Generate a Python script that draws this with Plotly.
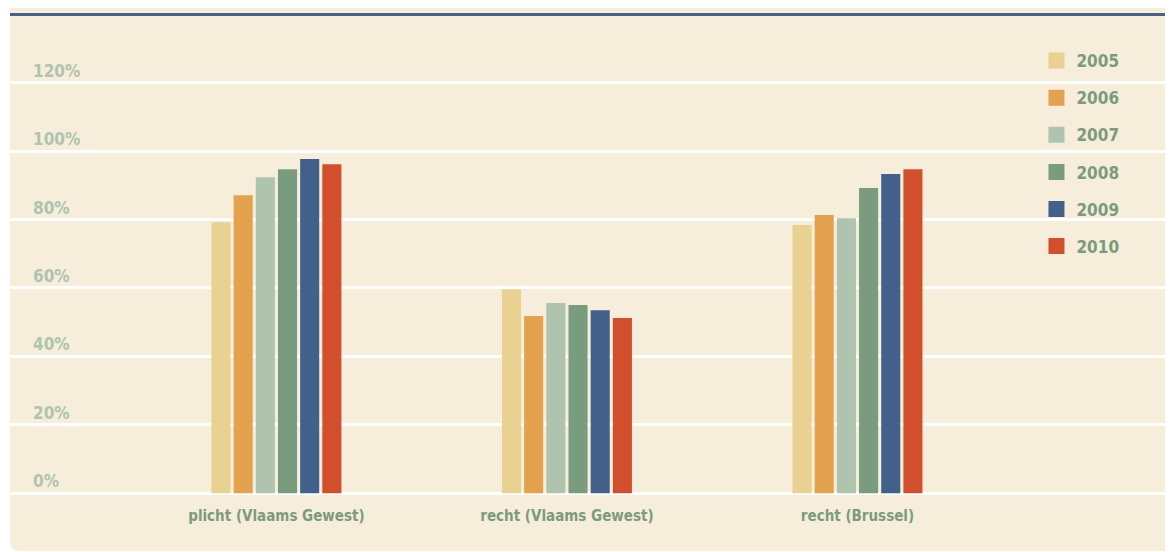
import plotly.graph_objects as go

categories = ["plicht (Vlaams Gewest)", "recht (Vlaams Gewest)", "recht (Brussel)"]
years = ["2005", "2006", "2007", "2008", "2009", "2010"]
values = {
    "2005": [79.2, 59.6, 78.4],
    "2006": [87.1, 51.8, 81.3],
    "2007": [92.4, 55.6, 80.4],
    "2008": [94.7, 55.0, 89.2],
    "2009": [97.7, 53.5, 93.3],
    "2010": [96.2, 51.2, 94.7],
}
colors = ["#E9D192", "#E4A14E", "#AEC4AF", "#7A9C7E", "#41618B", "#D34F2B"]
ytick_vals = [0, 20, 40, 60, 80, 100, 120]
ytick_text = ["0%", "20%", "40%", "60%", "80%", "100%", "120%"]

FONT = "DejaVu Sans Condensed, Liberation Sans Narrow, sans-serif"
CREAM = "#F6EDDA"

fig = go.Figure()
for yr, col in zip(years, colors):
    fig.add_trace(go.Bar(x=categories, y=values[yr], name=yr, marker_color=col,
                         marker_line_width=0, showlegend=False, legendgroup=yr))
for yr, col in zip(years, colors):
    fig.add_trace(go.Scatter(x=[None], y=[None], mode="markers", name=yr,
                             marker=dict(symbol="square", size=19, color=col),
                             legendgroup=yr, showlegend=True))

# panel background with rounded bottom-left corner (paper coords)
rx, ry = 10 / 1163, 10 / 480
x0, x1, y0, y1 = 0, 1.02, -0.10625, 1.06
panel = (f"M {x0},{y1} L {x1},{y1} L {x1},{y0} L {x0+rx},{y0} "
         f"Q {x0},{y0} {x0},{y0+ry} Z")
fig.add_shape(type="path", path=panel, xref="paper", yref="paper",
              fillcolor=CREAM, line_width=0, layer="below")
fig.add_shape(type="rect", xref="paper", yref="paper", x0=0, x1=1.02,
              y0=(492 - 8) / 480, y1=(492 - 5) / 480,
              fillcolor="#43618A", line_width=0, layer="below")

fig.update_layout(
    width=1165, height=544,
    margin=dict(l=2, r=0, t=12, b=52),
    paper_bgcolor="white",
    plot_bgcolor="rgba(0,0,0,0)",
    barmode="group",
    bargap=0.542,
    bargroupgap=0.14,
    font=dict(family=FONT),
    xaxis=dict(
        range=[-0.917, 3.086],
        showgrid=False, zeroline=False, showline=False,
        ticks="", ticklabelstandoff=5,
        tickfont=dict(family=FONT, size=15, color="#7A9C7E", weight="bold"),
    ),
    yaxis=dict(
        range=[-2, 138.35],
        tickvals=ytick_vals, ticktext=ytick_text,
        ticklabelposition="inside top",
        ticklabelstandoff=20,
        showgrid=True, gridcolor="white", gridwidth=3,
        zeroline=False, showline=False, ticks="",
        tickfont=dict(family=FONT, size=17, color="#AEC4AF", weight="bold"),
    ),
    legend=dict(
        x=0.8826, xanchor="left", y=0.952, yanchor="top",
        bgcolor="rgba(0,0,0,0)",
        font=dict(family=FONT, size=17, color="#7A9C7E", weight="bold"),
        tracegroupgap=12,
        itemclick=False,
    ),
)

fig.write_html("out.html")
